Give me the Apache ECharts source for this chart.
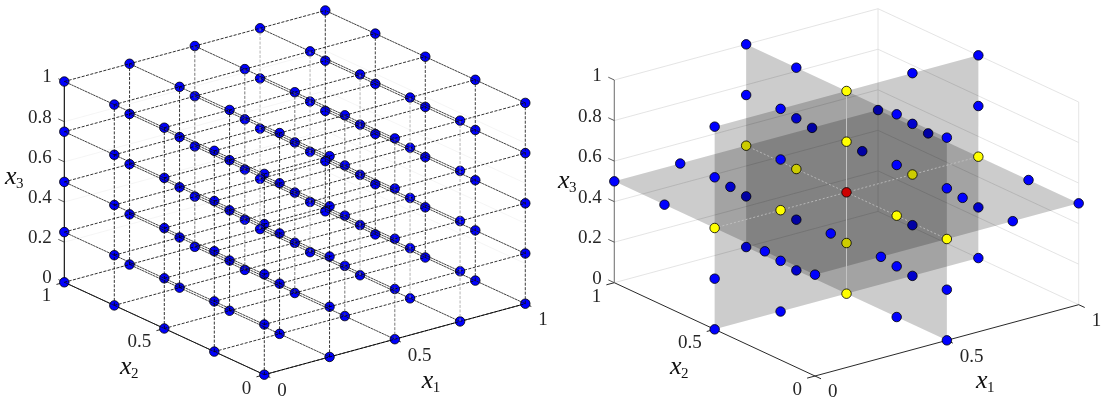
<!DOCTYPE html>
<html><head><meta charset="utf-8">
<style>html,body{margin:0;padding:0;background:#fff}#c{width:1116px;height:416px}</style>
<script src="https://cdn.jsdelivr.net/npm/echarts@6/dist/echarts.min.js"></script>
</head><body><div id="c"></div>
<script>
// Design levels and tick labels
const levels = [0, 0.25, 0.5, 0.75, 1];
const x3Ticks = [0, 0.2, 0.4, 0.6, 0.8, 1];
const x1Ticks = [0, 0.5, 1];
const x2Ticks = [0, 0.5, 1];
const x3TickLabels = ['0', '0.2', '0.4', '0.6', '0.8', '1'];
const x1TickLabels = ['0', '0.5', '1'];
const x2TickLabels = ['1', '0.5', '0'];
const x2TickValues = [1, 0.5, 0];
// View of each panel: screen position of the origin and of the unit vectors
const leftView  = {o:[264.3,374.7], e1:[261,-71], e2:[-200,-92.4], e3:[0,-200.8]};
const rightView = {o:[815,376], e1:[263.7,-71.3], e2:[-200.7,-93.3], e3:[0,-202.7]};
const toViewer = [-1,-1.314,0.9566];
// Darkening of a mark by 0,1,2,3 grey planes in front of it
const blueShades = ['#0000ff','#0000cc','#0000a3','#000082'];
const yellowShades = ['#ffff00','#cccc00','#a3a300','#828200'];
const centreColor = '#cc0000';
// Apparent darkness of the vertical lines, per x1 level
const columnShades = ['#000000','#000000','#555555','#a0a0a0','#111111'];

const P = (v,a,b,c)=>[v.o[0]+v.e1[0]*a+v.e2[0]*b, v.o[1]+v.e1[1]*a+v.e2[1]*b+v.e3[1]*c];
const seg = (v,p,q)=>[...P(v,...p),...P(v,...q)];

function lineSeries(rows, stroke, width, dash, z){
  return {type:'custom', coordinateSystem:'cartesian2d', clip:false, silent:true, z,
    data:rows, animation:false,
    renderItem(params, api){
      const a=api.coord([api.value(0),api.value(1)]), b=api.coord([api.value(2),api.value(3)]);
      return {type:'line', shape:{x1:a[0],y1:a[1],x2:b[0],y2:b[1]},
        style:{stroke, lineWidth:width, lineDash:dash||null, fill:null}};
    }};
}
function polySeries(rows){
  return {type:'custom', coordinateSystem:'cartesian2d', clip:false, silent:true, z:3,
    data:rows, animation:false,
    renderItem(params, api){
      const pts=[0,2,4,6].map(i=>api.coord([api.value(i),api.value(i+1)]));
      return {type:'polygon', shape:{points:pts}, style:{fill:'#000', opacity:0.2}};
    }};
}
const textItem = (x,y,text,align,size)=>({value:[x,y],text,align,size});
const SERIF = '"Liberation Serif","Times New Roman",serif';
function textSeries(rows){
  return {type:'custom', coordinateSystem:'cartesian2d', clip:false, silent:true, z:10,
    data:rows, animation:false,
    renderItem(params, api){
      const r=rows[params.dataIndex], a=api.coord(r.value);
      return {type:'text', x:a[0], y:a[1], style:{text:r.text, align:r.align, verticalAlign:'middle',
        fontFamily:SERIF, fontSize:r.size, fill:'#262626'}};
    }};
}
function axisNameSeries(rows){
  return {type:'custom', coordinateSystem:'cartesian2d', clip:false, silent:true, z:10,
    data:rows, animation:false,
    renderItem(params, api){
      const r=rows[params.dataIndex], a=api.coord(r.value);
      return {type:'group', children:[
        {type:'text', x:a[0], y:a[1], style:{text:'x', align:'left', verticalAlign:'middle',
          fontFamily:SERIF, fontStyle:'italic', fontSize:26, fill:'#111'}},
        {type:'text', x:a[0]+11, y:a[1]+7, style:{text:r.text, align:'left', verticalAlign:'middle',
          fontFamily:SERIF, fontSize:15, fill:'#111'}}
      ]};
    }};
}
function scatterSeries(rows, z){
  return {type:'scatter', coordinateSystem:'cartesian2d', clip:false, silent:true, z, symbolSize:9.5, animation:false,
    data:rows.map(r=>({value:[r[0],r[1]], itemStyle:{color:r[2], borderColor:'#000', borderWidth:0.8, opacity:1}}))};
}

function axesSeries(v, zAxisColor, wallColor){
  const s=[];
  const wall=[];
  x3Ticks.forEach(c=>{ wall.push(seg(v,[0,1,c],[1,1,c])); wall.push(seg(v,[1,1,c],[1,0,c])); });
  wall.push(seg(v,[1,1,0],[1,1,1])); wall.push(seg(v,[1,0,0],[1,0,1]));
  s.push(lineSeries(wall, wallColor, 0.8, null, 1));
  const bottom=[seg(v,[0,0,0],[1,0,0]), seg(v,[0,0,0],[0,1,0])];
  x1Ticks.forEach(a=>bottom.push(seg(v,[a,0,0],[a,-0.03,0])));
  x2Ticks.forEach(b=>bottom.push(seg(v,[0,b,0],[-0.03,b,0])));
  s.push(lineSeries(bottom,'#111',0.9,null,5));
  s.push(lineSeries([seg(v,[0,1,0],[0,1,1])], zAxisColor, 1.1, null, 5));
  s.push(lineSeries(x3Ticks.map(c=>seg(v,[0,1,c],[0,1.03,c])),'#333',0.8,null,5));
  const t=[];
  x3Ticks.forEach((c,i)=>{const p=P(v,0,1,c); t.push(textItem(p[0]-12.5,p[1]-4,x3TickLabels[i],'right',19));});
  x1Ticks.forEach((a,i)=>{const p=P(v,a,0,0); t.push(textItem(p[0]+13,p[1]+16.5,x1TickLabels[i],'left',19));});
  x2TickValues.forEach((b,i)=>{const p=P(v,0,b,0); t.push(textItem(p[0]-13,p[1]+14,x2TickLabels[i],'right',19));});
  s.push(textSeries(t));
  return s;
}

// Left panel: full factorial grid
function leftPanel(){
  const v=leftView, s=[...axesSeries(v,'#000','#f3f3f3')];
  const pts=[], along1=[], along2=[];
  levels.forEach(a=>levels.forEach(b=>levels.forEach(c=>pts.push([...P(v,a,b,c),blueShades[0]]))));
  levels.forEach(p=>levels.forEach(q=>{
    along1.push(seg(v,[0,p,q],[1,p,q]));
    along2.push(seg(v,[p,0,q],[p,1,q]));
  }));
  s.push(scatterSeries(pts,6));
  s.push(lineSeries(along1,'#000',0.8,[3,1.5],7));
  s.push(lineSeries(along2,'#111',0.8,[2.5,0.5],7));
  levels.forEach((a,i)=>{
    const rows=[];
    levels.forEach(b=>{ if(!(a===0&&b===1)) rows.push(seg(v,[a,b,0],[a,b,1])); });
    s.push(lineSeries(rows,columnShades[i],0.8,[3,1.5],7));
  });
  s.push(axisNameSeries([{value:[5,177],text:'3'},{value:[120,367],text:'2'},{value:[421.7,381],text:'1'}]));
  return s;
}

// Right panel: three planes through the centre
function planesInFront(p){
  let n=0;
  for(let k=0;k<3;k++){
    if(p[k]===0.5) continue;
    const t=(0.5-p[k])/toViewer[k];
    if(t<=0) continue;
    const q=p.map((u,i)=>u+t*toViewer[i]);
    if(q.every(u=>u>=0&&u<=1)) n++;
  }
  return n;
}
function rightPanel(){
  const v=rightView, s=[...axesSeries(v,'#777','#dddddd')];
  const planes=[
    [[.5,0,0],[.5,1,0],[.5,1,1],[.5,0,1]],
    [[0,.5,0],[1,.5,0],[1,.5,1],[0,.5,1]],
    [[0,0,.5],[1,0,.5],[1,1,.5],[0,1,.5]]
  ];
  s.push(polySeries(planes.map(pl=>pl.flatMap(c=>P(v,...c)))));
  s.push(lineSeries([seg(v,[.5,.5,0],[.5,.5,1])],'#c4c4c4',1,null,4));
  s.push(lineSeries([seg(v,[0,.5,.5],[1,.5,.5]),seg(v,[.5,0,.5],[.5,1,.5])],'#c4c4c4',0.8,[2,2],4));
  const pts=[];
  levels.forEach(a=>levels.forEach(b=>levels.forEach(c=>{
    const p=[a,b,c], on=p.filter(u=>u===.5).length;
    if(on===0) return;
    const n=planesInFront(p);
    const col= on===3? centreColor : on===2? yellowShades[n] : blueShades[n];
    pts.push([...P(v,a,b,c),col]);
  })));
  s.push(scatterSeries(pts,6));
  s.push(axisNameSeries([{value:[558,181],text:'3'},{value:[670,367],text:'2'},{value:[976,381],text:'1'}]));
  return s;
}

const chart=echarts.init(document.getElementById('c'),null,{renderer:'canvas'});
chart.setOption({
  animation:false, backgroundColor:'#fff',
  grid:{left:0,right:0,top:0,bottom:0},
  xAxis:{type:'value',min:0,max:1116,show:false},
  yAxis:{type:'value',min:0,max:416,inverse:true,show:false},
  series:[...leftPanel(),...rightPanel()]
});
</script></body></html>
